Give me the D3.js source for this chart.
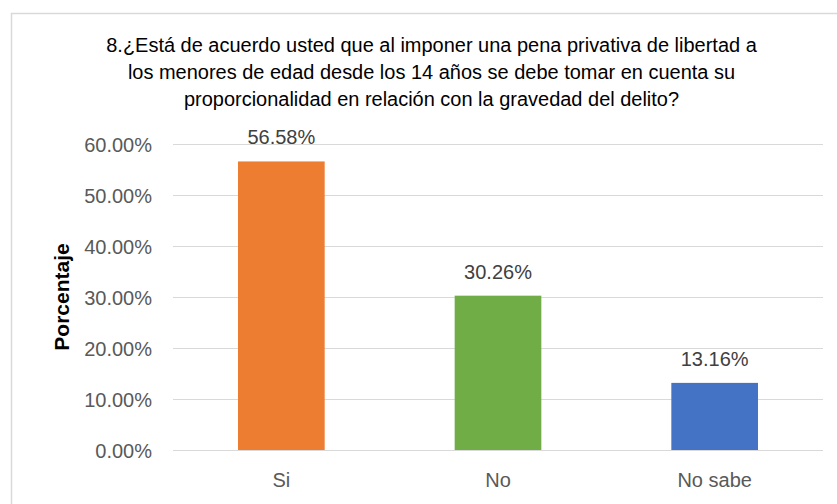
<!DOCTYPE html>
<html>
<head>
<meta charset="utf-8">
<script src="https://cdn.jsdelivr.net/npm/d3@7"></script>
<style>
  html, body { margin: 0; padding: 0; background: #fff; }
  svg { display: block; }
  text { font-family: "Liberation Sans", Arial, sans-serif; }
</style>
</head>
<body>
<svg id="chart" width="837" height="504"></svg>
<script>
const titleLines = [
  "8.¿Está de acuerdo usted que al imponer una pena privativa de libertad a",
  "los menores de edad desde los 14 años se debe tomar en cuenta su",
  "proporcionalidad en relación con la gravedad del delito?"
];
const categories = ["Si", "No", "No sabe"];
const values = [0.5658, 0.3026, 0.1316];
const barColors = ["#ED7D31", "#70AD47", "#4472C4"];
const yTicks = [0, 0.1, 0.2, 0.3, 0.4, 0.5, 0.6];
const yAxisLabel = "Porcentaje";

const svg = d3.select("#chart");
const W = 837, H = 504;
const plot = { left: 173, right: 823, top: 144, bottom: 450 };

svg.append("rect").attr("width", W).attr("height", H).attr("fill", "#fff");
// outer chart frame (extends beyond the visible window on right/bottom)
svg.append("rect")
  .attr("x", 11.5).attr("y", 13.5)
  .attr("width", W + 20).attr("height", H + 20)
  .attr("fill", "none").attr("stroke", "#d9d9d9").attr("stroke-width", 1.5);

// Title, fitted to measured width
const title = svg.append("g");
const tLines = title.selectAll("text").data(titleLines).enter().append("text")
  .attr("x", 431.5)
  .attr("y", (d, i) => 52 + i * 26.8)
  .attr("text-anchor", "middle")
  .attr("fill", "#000")
  .style("font-size", "18px")
  .text(d => d);
const w0 = tLines.nodes()[0].getComputedTextLength();
const fs = 18 * 651 / w0;
tLines.style("font-size", fs + "px");

const x = d3.scaleBand().domain(categories).range([plot.left, plot.right])
  .paddingInner(0.6).paddingOuter(0.3);
const y = d3.scaleLinear().domain([0, 0.6]).range([plot.bottom, plot.top]);

// gridlines
svg.append("g").selectAll("line").data(yTicks).enter().append("line")
  .attr("x1", plot.left).attr("x2", plot.right)
  .attr("y1", d => Math.round(y(d)) + 0.5).attr("y2", d => Math.round(y(d)) + 0.5)
  .attr("stroke", "#d9d9d9").attr("stroke-width", 1.2);

// y axis labels
const yAxis = d3.axisLeft(y).tickValues(yTicks).tickFormat(d3.format(".2%")).tickSize(0).tickPadding(0);
const yG = svg.append("g").attr("transform", `translate(152,0)`).call(yAxis);
yG.select(".domain").remove();
yG.selectAll("text").attr("fill", "#595959").style("font-size", "20px")
  .style("font-family", "'Liberation Sans', Arial, sans-serif").attr("dy", "0.35em");

// bars
svg.append("g").selectAll("rect").data(values).enter().append("rect")
  .attr("x", (d, i) => x(categories[i]))
  .attr("width", x.bandwidth())
  .attr("y", d => y(d))
  .attr("height", d => y(0) - y(d))
  .attr("fill", (d, i) => barColors[i]);

// data labels
svg.append("g").selectAll("text").data(values).enter().append("text")
  .attr("x", (d, i) => x(categories[i]) + x.bandwidth() / 2)
  .attr("y", d => y(d) - 17)
  .attr("text-anchor", "middle")
  .attr("fill", "#404040")
  .style("font-size", "20px")
  .text(d => d3.format(".2%")(d));

// x axis labels
const xAxis = d3.axisBottom(x).tickSize(0).tickPadding(0);
const xG = svg.append("g").attr("transform", `translate(0,487)`).call(xAxis);
xG.select(".domain").remove();
xG.selectAll("text").attr("fill", "#595959").attr("dy", 0)
  .style("font-size", "20px")
  .style("font-family", "'Liberation Sans', Arial, sans-serif");

// y axis title
svg.append("text")
  .attr("transform", `translate(69,${(plot.top + plot.bottom) / 2}) rotate(-90)`)
  .attr("text-anchor", "middle")
  .attr("fill", "#000")
  .style("font-size", "21px")
  .style("font-weight", "bold")
  .text(yAxisLabel);
</script>
</body>
</html>
